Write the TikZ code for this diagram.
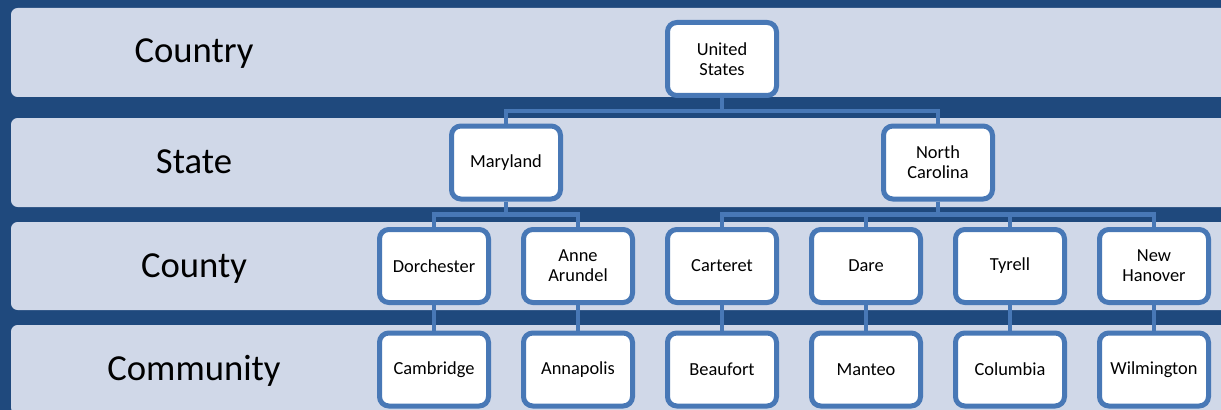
\documentclass[tikz,border=0pt]{standalone}
\usepackage{fontspec}
\setmainfont{Carlito}

\definecolor{bgblue}{HTML}{1F497D}
\definecolor{bandgray}{HTML}{D0D8E8}
\definecolor{boxblue}{HTML}{4878B6}

\begin{document}
\begin{tikzpicture}[x=0.75pt,y=-0.75pt,
  place/.style={draw=boxblue, fill=white, line width=3.75pt, rounded corners=7pt,
    minimum width=81.75pt, minimum height=54.75pt, inner sep=0pt, align=center,
    font=\fontsize{13.8}{15}\selectfont},
  link/.style={draw=boxblue, line width=3.5pt},
  level/.style={font=\fontsize{27.5}{33}\selectfont, anchor=base}]
  \useasboundingbox (0,0) rectangle (1221,410);
  \clip (0,0) rectangle (1221,410);
  \fill[bgblue] (0,0) rectangle (1221,410);

  % bands of the four levels
  \foreach \top/\bot in {8/97, 118/207, 222/310, 325/414}
    \fill[bandgray, rounded corners=5pt] (11,\top) rectangle (1240,\bot);

  \node[level] (country) at (194,63) {Country};
  \node[level] (state) at (194,173) {State};
  \node[level] (county) at (194,277) {County};
  \node[level] (community) at (194,380) {Community};

  \node[place] (us) at (722,59) {United\\States};
  \node[place] (md) at (506,162.5) {Maryland};
  \node[place] (nc) at (938,162.5) {North\\Carolina};

  \foreach \txt [count=\i] in {Dorchester, {Anne\\Arundel}, Carteret, Dare, Tyrell, {New\\Hanover}}
    \node[place] (cty\i) at ({434+144*(\i-1)},266) {\txt};
  \foreach \txt [count=\i] in {Cambridge, Annapolis, Beaufort, Manteo, Columbia, Wilmington}
    \node[place] (com\i) at ({434+144*(\i-1)},369.5) {\txt};

  \draw[link] (us.south) -- ++(0,13) -| (md.north);
  \draw[link] (us.south) -- ++(0,13) -| (nc.north);
  \foreach \i in {1,2}
    \draw[link] (md.south) -- ++(0,13) -| (cty\i.north);
  \foreach \i in {3,...,6}
    \draw[link] (nc.south) -- ++(0,13) -| (cty\i.north);
  \foreach \i in {1,...,6}
    \draw[link] (cty\i) -- (com\i);
\end{tikzpicture}
\end{document}
